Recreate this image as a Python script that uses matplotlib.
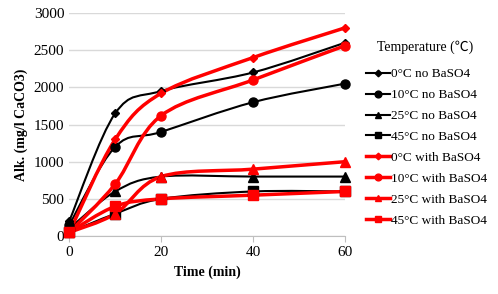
import matplotlib.pyplot as plt
from matplotlib.path import Path
from matplotlib.patches import PathPatch
from matplotlib.lines import Line2D

plt.rcParams['font.family'] = ['Liberation Serif', 'DejaVu Serif']

t = [0, 10, 20, 40, 60]
labels = ['0°C no BaSO4', '10°C no BaSO4', '25°C no BaSO4', '45°C no BaSO4',
          '0°C with BaSO4', '10°C with BaSO4', '25°C with BaSO4', '45°C with BaSO4']
no_0 = [200, 1650, 1950, 2200, 2600]
no_10 = [150, 1200, 1400, 1800, 2050]
no_25 = [100, 600, 800, 800, 800]
no_45 = [50, 300, 500, 600, 600]
ba_0 = [50, 1300, 1920, 2400, 2800]
ba_10 = [50, 700, 1620, 2100, 2560]
ba_25 = [50, 300, 800, 900, 1000]
ba_45 = [50, 400, 500, 550, 600]

series = [no_0, no_10, no_25, no_45, ba_0, ba_10, ba_25, ba_45]
markers = ['D', 'o', '^', 's', 'D', 'o', '^', 's']
msizes = [4.5, 6.5, 6.5, 6.5, 4.5, 6.5, 6.5, 6.5]
colors = ['black'] * 4 + ['#ff0000'] * 4
widths = [1.5] * 4 + [2.5] * 4


def smooth_path(xs, ys):
    # Excel-style smoothed line: cubic Bezier segments through the points
    n = len(xs)
    verts = [(xs[0], ys[0])]
    codes = [Path.MOVETO]
    for i in range(n - 1):
        x0, y0 = xs[max(i - 1, 0)], ys[max(i - 1, 0)]
        x1, y1 = xs[i], ys[i]
        x2, y2 = xs[i + 1], ys[i + 1]
        x3, y3 = xs[min(i + 2, n - 1)], ys[min(i + 2, n - 1)]
        c1 = (x1 + (x2 - x0) / 6, y1 + (y2 - y0) / 6)
        c2 = (x2 - (x3 - x1) / 6, y2 - (y3 - y1) / 6)
        verts += [c1, c2, (x2, y2)]
        codes += [Path.CURVE4] * 3
    return Path(verts, codes)


fig = plt.figure(figsize=(4.98, 2.94), dpi=100)
ax = fig.add_axes([0.139, 0.197, 0.554, 0.759])

handles = []
for ys, m, ms, c, w, lab in zip(series, markers, msizes, colors, widths, labels):
    ax.add_patch(PathPatch(smooth_path(t, ys), fill=False, edgecolor=c, lw=w, zorder=3))
    ax.plot(t, ys, ls='none', marker=m, ms=ms, color=c, zorder=4, clip_on=False)
    handles.append(Line2D([], [], color=c, lw=w, marker=m, ms=ms * 0.75, label=lab))

ax.set_xlim(0, 60)
ax.set_ylim(0, 3000)
ax.set_xticks([0, 20, 40, 60])
ax.set_yticks(range(0, 3001, 500))
ax.yaxis.grid(True, color='#d9d9d9', lw=1)
ax.set_axisbelow(True)
for s in ['top', 'right', 'left']:
    ax.spines[s].set_visible(False)
ax.spines['bottom'].set_color('#bfbfbf')
ax.tick_params(axis='y', length=0, labelsize=11)
ax.tick_params(axis='x', color='#bfbfbf', labelsize=11, length=4)
ax.set_xlabel('Time (min)', fontweight='bold', fontsize=10)
ax.set_ylabel('Alk. (mg/l CaCO3)', fontweight='bold', fontsize=10)

fig.text(425 / 498, 1 - 47 / 294, 'Temperature (\u2103)', ha='center', va='center',
         fontsize=10, family=['Liberation Serif', 'Noto Sans CJK SC'])
fig.legend(handles=handles, loc='upper left', bbox_to_anchor=(366 / 498, 1 - 68 / 294),
           frameon=False, fontsize=9.5, handlelength=1.8, handletextpad=0.1,
           labelspacing=0.66, borderpad=0, borderaxespad=0)

plt.savefig('out.png', dpi=100)
